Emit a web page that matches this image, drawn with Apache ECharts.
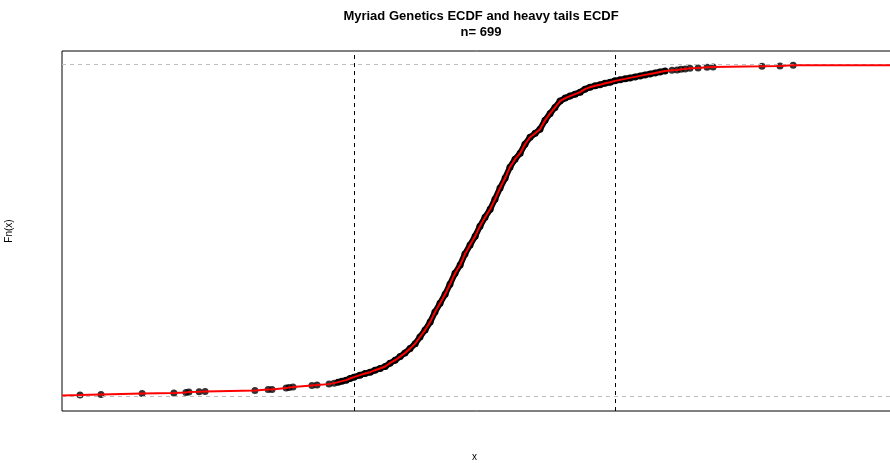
<!DOCTYPE html>
<html>
<head>
<meta charset="utf-8">
<script src="https://cdn.jsdelivr.net/npm/echarts@6/dist/echarts.min.js"></script>
<style>html,body{margin:0;padding:0;background:#fff;}#c{width:890px;height:463px;}</style>
</head>
<body>
<div id="c"></div>
<script>
// ECDF points (x in % return, F = cumulative fraction)
var leftTailX = [-13.20,-12.50,-11.13,-10.07,-9.67,-9.57,-9.23,-9.03,-7.37,-6.93,-6.80,-6.33,-6.23,-6.10,-5.47,-5.30,-4.90,-4.73];
var leftTailF = [0.003,0.005,0.008,0.009,0.011,0.012,0.013,0.014,0.017,0.020,0.020,0.024,0.026,0.027,0.032,0.033,0.036,0.039];

var midX = [-4.60,-4.47,-4.33,-4.20,-4.07,-3.87,-3.70,-3.53,-3.37,-3.20,-3.03,-2.87,-2.70,-2.53,-2.37,-2.20,-2.03,-1.87,-1.70,-1.53,-1.37,-1.20,-1.03,-0.87,-0.70,-0.53,-0.37,-0.20,-0.03,0.13,0.30,0.47,0.63,0.80,0.97,1.13,1.30,1.47,1.63,1.80,1.97,2.13,2.30,2.47,2.63,2.80,2.97,3.13,3.30,3.47,3.63,3.80,3.97,4.13,4.30,4.47,4.63,4.80,4.97,5.13,5.30,5.47,5.63,5.80,5.97,6.13,6.30];
var midF = [0.042,0.045,0.048,0.053,0.057,0.063,0.068,0.072,0.078,0.083,0.089,0.099,0.108,0.119,0.130,0.143,0.158,0.178,0.199,0.223,0.253,0.280,0.307,0.337,0.370,0.395,0.428,0.455,0.482,0.512,0.539,0.563,0.593,0.627,0.657,0.690,0.714,0.732,0.759,0.780,0.792,0.804,0.831,0.852,0.870,0.889,0.898,0.904,0.910,0.916,0.925,0.931,0.935,0.938,0.943,0.946,0.950,0.953,0.956,0.959,0.962,0.965,0.968,0.971,0.974,0.977,0.980];

var rightTailX = [6.53,6.70,6.83,6.97,7.13,7.40,7.70,7.90,9.53,10.13,10.57];
var rightTailF = [0.982,0.983,0.985,0.986,0.988,0.989,0.991,0.992,0.994,0.995,0.997];

// heavy-tails curve end values at the plot edges
var curveStartX = -13.80, curveStartF = 0.002;
var curveEndX = 13.90, curveEndF = 0.997;

// reference lines
var vLines = [-4.07, 4.63];
var hLines = [0, 1];

var titleText = 'Myriad Genetics ECDF and heavy tails ECDF';
var subText = 'n= 699';
var xName = 'x';
var yName = 'Fn(x)';

function zip(xs, fs){ var o=[]; for(var i=0;i<xs.length;i++) o.push([xs[i], fs[i]]); return o; }
var tailPts = zip(leftTailX, leftTailF).concat(zip(rightTailX, rightTailF));
var midPts = zip(midX, midF);
var redPts = [[curveStartX, curveStartF]].concat(zip(leftTailX, leftTailF), midPts, zip(rightTailX, rightTailF), [[curveEndX, curveEndF]]);

var chart = echarts.init(document.getElementById('c'), null, {renderer:'canvas'});
var font = 'Liberation Sans, Arial, Helvetica, sans-serif';
chart.setOption({
  animation: false,
  backgroundColor: '#fff',
  title: [
    {text: titleText, left: 476, top: 5, textAlign: 'center',
     textStyle: {fontFamily: font, fontSize: 13, fontWeight: 'bold', color: '#000'}},
    {text: subText, left: 476, top: 21, textAlign: 'center',
     textStyle: {fontFamily: font, fontSize: 13, fontWeight: 'bold', color: '#000'}}
  ],
  graphic: [
    {type: 'text', left: 472, top: 452, style: {text: xName, font: '10px ' + font, fill: '#000'}},
    {type: 'text', x: 9, y: 231, rotation: Math.PI / 2,
     style: {text: yName, font: '10px ' + font, fill: '#000', align: 'center', verticalAlign: 'middle'}}
  ],
  grid: {left: 62, top: 51, right: -10, bottom: 52, show: true, borderColor: '#000', borderWidth: 1,
    backgroundColor: 'transparent', containLabel: false, outerBoundsMode: 'none'},
  xAxis: {type: 'value', min: -13.8, max: 14.13,
    axisLine: {show: false}, axisTick: {show: false}, axisLabel: {show: false}, splitLine: {show: false}},
  yAxis: {type: 'value', min: -0.045, max: 1.04,
    axisLine: {show: false}, axisTick: {show: false}, axisLabel: {show: false}, splitLine: {show: false}},
  series: [
    {type: 'line', data: [], silent: true,
     markLine: {silent: true, symbol: 'none', label: {show: false},
       data: hLines.map(function(v){ return {yAxis: v, lineStyle: {color: '#bebebe', type: [4,4], width: 1}}; })
         .concat(vLines.map(function(v){ return {xAxis: v, lineStyle: {color: '#000', type: [4,4], width: 1}}; }))}},
    {type: 'scatter', data: tailPts, symbol: 'circle', symbolSize: 7, itemStyle: {color: '#000'}, z: 3},
    {type: 'line', data: midPts, symbol: 'circle', symbolSize: 7, showSymbol: true,
     itemStyle: {color: '#000'}, lineStyle: {color: '#000', width: 6}, z: 3},
    {type: 'line', data: redPts, showSymbol: false, symbol: 'none',
     lineStyle: {color: '#ff0000', width: 2}, z: 5}
  ]
});
</script>
</body>
</html>
